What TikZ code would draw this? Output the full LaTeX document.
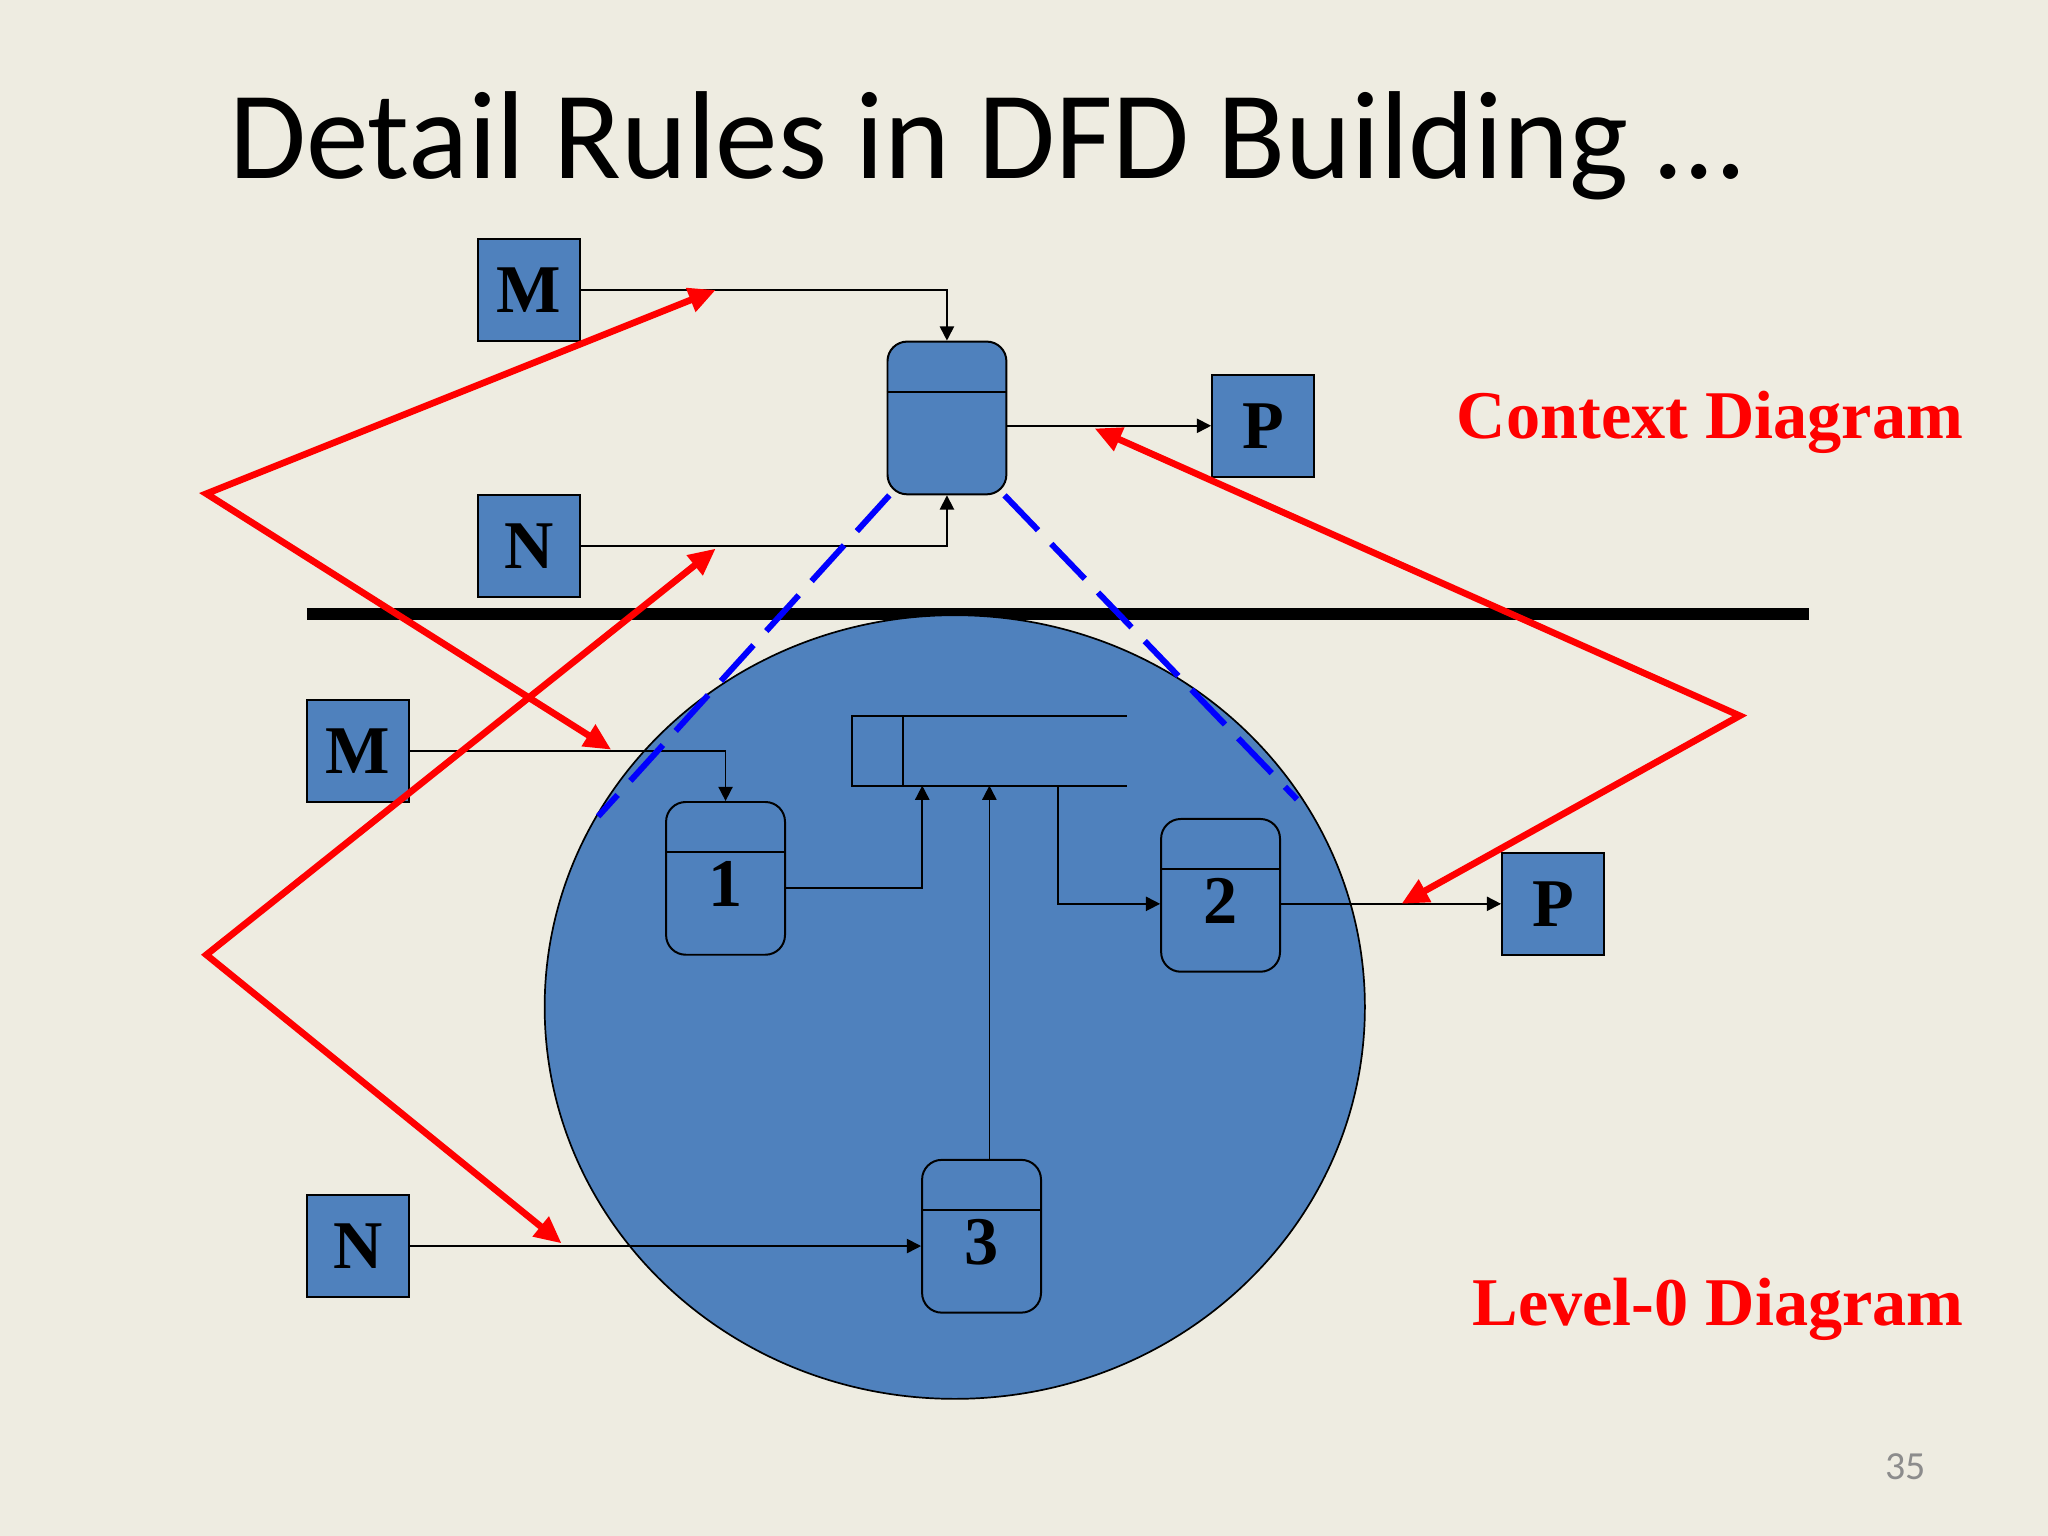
\documentclass[tikz,border=0pt]{standalone}
\usepackage{fontspec}
\setmainfont{Liberation Serif}
\newfontfamily\titlefont{Carlito}
\usepackage{xcolor}
\definecolor{SlideBackground}{HTML}{EEECE1}
\definecolor{EntityFill}{HTML}{4F81BD}
\colorlet{ZoomLine}{blue}
\colorlet{MapArrow}{red}
\usetikzlibrary{arrows.meta}

\tikzset{
  flow/.style={line width=0.6pt, -{Triangle[length=5pt, width=5pt]}},
  entity/.style={draw, line width=0.7pt, fill=EntityFill, inner sep=0pt,
    minimum width=35.8pt, minimum height=35.8pt,
    font=\fontsize{24}{26}\selectfont\bfseries},
  proc/.style={draw, line width=0.7pt, fill=EntityFill, rounded corners=6.9pt,
    inner sep=0pt, minimum width=41.8pt, minimum height=53.7pt},
  procnum/.style={inner sep=0pt, font=\fontsize{24}{26}\selectfont\bfseries},
  storebox/.style={inner sep=0pt, minimum width=96pt, minimum height=23.9pt},
  maparrow/.style={draw=MapArrow, line width=2.35pt,
    {Triangle[length=9.5pt, width=8.5pt]}-{Triangle[length=9.5pt, width=8.5pt]}},
  zoomline/.style={draw=ZoomLine, line width=2.1pt, dash pattern=on 17pt off 6.7pt},
  diagname/.style={anchor=base west, inner sep=0pt, text=MapArrow,
    font=\fontsize{24}{26}\selectfont\bfseries}
}

\begin{document}
\begin{tikzpicture}[x=0.45918pt, y=-0.45918pt]

\fill[SlideBackground] (0,0) rectangle (1568,1176);
\useasboundingbox (0,0) rectangle (1568,1176);

\node[anchor=base west, inner sep=0pt, font=\titlefont\fontsize{44}{48}\selectfont]
  (title) at (175,137) {Detail Rules in DFD Building \dots};

% context diagram
\node[entity] (cM) at (405,222) {M};
\node[entity] (cN) at (405,418) {N};
\node[entity] (cP) at (967,326) {P};
\node[proc] (cProc) at (725,320) {};
\draw[line width=0.7pt] ([yshift=-17.9pt]cProc.north west) -- ([yshift=-17.9pt]cProc.north east);

\draw[flow] (cM.east) -| (cProc.north);
\draw[flow] (cN.east) -| (cProc.south);
\draw[flow] (cProc.east |- cP.west) -- (cP.west);

\node[diagname] (ctxname) at (1115,336) {Context Diagram};

% separator
\draw[line width=4.3pt] (235,470) -- (1385,470);

% level-0 diagram
\draw[line width=0.6pt, fill=EntityFill] (731,771) ellipse [x radius=314, y radius=300];

\node[entity] (lM) at (274,575) {M};
\node[entity] (lN) at (274,954) {N};
\node[entity] (lP) at (1189,692) {P};

\node[proc] (p1) at (555.5,672.5) {};
\node[proc] (p2) at (934.5,685.5) {};
\node[proc] (p3) at (751.5,946.5) {};
\foreach \p/\n in {p1/1, p2/2, p3/3} {
  \draw[line width=0.7pt] ([yshift=-17.9pt]\p.north west) -- ([yshift=-17.9pt]\p.north east);
  \node[procnum] at ([yshift=-2pt]\p.center) {\n};
}

\node[storebox] (store) at (757.5,575) {};
\draw[line width=0.7pt] (store.north east) -- (store.north west) -- (store.south west) -- (store.south east);
\draw[line width=0.7pt] ([xshift=17.9pt]store.north west) -- ([xshift=17.9pt]store.south west);

\draw[flow] (lM.east) -| (p1.north);
\draw[flow] ([yshift=-3.4pt]p1.east) -| ([xshift=-23.6pt]store.south);
\draw[flow] (store.south |- p3.north) -- (store.south);
\draw[flow] ([xshift=24.1pt]store.south) |- (p2.west |- lP.west);
\draw[flow] (p2.east |- lP.west) -- (lP.west);
\draw[flow] (lN.east) -- (lN.east -| p3.west);

\node[diagname] (lvlname) at (1127,1015) {Level-0 Diagram};

% zoom lines
\coordinate (zoomL) at (458,625);
\coordinate (zoomR) at (993,612);
\draw[zoomline] ([xshift=1pt]cProc.south west) -- (zoomL);
\draw[zoomline] ([xshift=-1pt]cProc.south east) -- (zoomR);

% red mapping arrows
\coordinate (mTip) at (548,222);
\coordinate (mBend) at (158,378);
\coordinate (mEnd) at (468,574);
\coordinate (nTip) at (548,420);
\coordinate (nBend) at (158,731);
\coordinate (nEnd) at (430,952);
\coordinate (pTip) at (838,328);
\coordinate (pBend) at (1332,548);
\coordinate (pEnd) at (1073,692);
\draw[maparrow] (mTip) -- (mBend) -- (mEnd);
\draw[maparrow] (nTip) -- (nBend) -- (nEnd);
\draw[maparrow] (pTip) -- (pBend) -- (pEnd);

\node[inner sep=0pt, text=black!45, font=\titlefont\fontsize{14}{16}\selectfont] (pagenum) at (1459,1123) {35};

\end{tikzpicture}
\end{document}
